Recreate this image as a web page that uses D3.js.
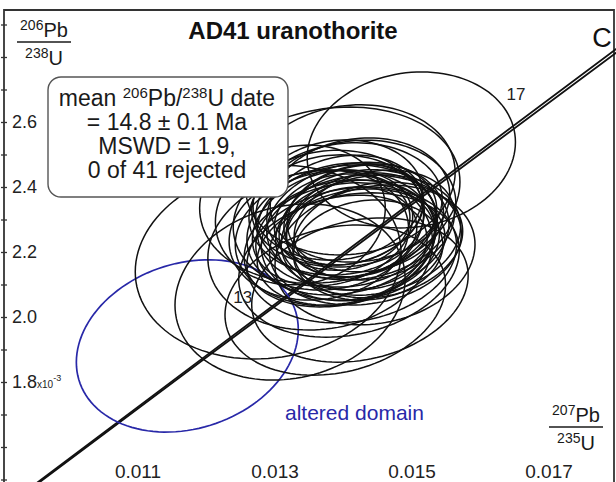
<!DOCTYPE html>
<html>
<head>
<meta charset="utf-8">
<script src="https://cdn.jsdelivr.net/npm/d3@7"></script>
<style>
  html, body { margin: 0; padding: 0; background: #fff; }
  svg { display: block; font-family: "Liberation Sans", Arial, sans-serif; }
</style>
</head>
<body>
<script>
// Axis ticks
const xTicks = [0.011, 0.013, 0.015, 0.017];
const yTicks = [1.8, 2.0, 2.2, 2.4, 2.6];            // x10^-3
const yMinor = [1.5, 1.6, 1.7, 1.8, 1.9, 2.0, 2.1, 2.2, 2.3, 2.4, 2.5, 2.6, 2.7, 2.8, 2.9];

// Spot analyses: 207Pb/235U, 2s err, 206Pb/238U (x10^-3), 2s err, error correlation
const spotX    = [0.01499, 0.01380, 0.01290, 0.01322, 0.01366, 0.01388, 0.01424, 0.01446, 0.01410, 0.01337,
                  0.01405, 0.01412, 0.01398, 0.01418, 0.01390, 0.01425, 0.01406, 0.01402, 0.01430, 0.01388,
                  0.01415, 0.01398, 0.01420, 0.01384, 0.01432, 0.01412, 0.01394, 0.01426, 0.01405, 0.01440,
                  0.01378, 0.01418, 0.01398, 0.01436, 0.01392, 0.01445, 0.01412, 0.01364, 0.01424, 0.01408,
                  0.01450];
const spotXErr = [0.00152, 0.00190, 0.00194, 0.00168, 0.00164, 0.00161, 0.00158, 0.00146, 0.00153, 0.00124,
                  0.00131, 0.00124, 0.00139, 0.00117, 0.00128, 0.00109, 0.00134, 0.00114, 0.00124, 0.00146,
                  0.00102, 0.00099, 0.00128, 0.00117, 0.00114, 0.00095, 0.00139, 0.00146, 0.00139, 0.00131,
                  0.00139, 0.00146, 0.00124, 0.00109, 0.00124, 0.00117, 0.00153, 0.00131, 0.00131, 0.00161,
                  0.00124];
const spotY    = [2.514, 2.375, 2.169, 2.077, 2.206, 2.052, 2.083, 2.191, 2.422, 2.314,
                  2.283, 2.298, 2.268, 2.252, 2.314, 2.283, 2.237, 2.329, 2.268, 2.243,
                  2.314, 2.292, 2.222, 2.274, 2.305, 2.262, 2.222, 2.237, 2.345, 2.252,
                  2.298, 2.329, 2.206, 2.206, 2.360, 2.283, 2.191, 2.252, 2.360, 2.160,
                  2.237];
const spotYErr = [0.240, 0.271, 0.298, 0.271, 0.246, 0.231, 0.222, 0.215, 0.231, 0.215,
                  0.191, 0.178, 0.200, 0.169, 0.185, 0.160, 0.185, 0.169, 0.185, 0.209,
                  0.154, 0.148, 0.172, 0.178, 0.166, 0.138, 0.191, 0.200, 0.191, 0.185,
                  0.215, 0.215, 0.169, 0.154, 0.185, 0.169, 0.209, 0.200, 0.191, 0.222,
                  0.178];
const spotRho  = [0.10, 0.15, 0.10, 0.15, 0.10, 0.20, 0.20, 0.15, 0.10, 0.10,
                  0.10, 0.20, 0.15, 0.10, 0.05, 0.20, 0.10, 0.15, 0.10, 0.10,
                  0.25, 0.10, 0.15, 0.20, 0.10, 0.10, 0.20, 0.10, 0.10, 0.15,
                  0.10, 0.10, 0.20, 0.10, 0.10, 0.20, 0.15, 0.10, 0.10, 0.20,
                  0.15];

// Altered-domain spot
const alteredX = 0.01172, alteredXErr = 0.00162;
const alteredY = 1.911,   alteredYErr = 0.265, alteredRho = 0.19;

// Concordia band
const concordiaX  = [0.0094, 0.0120, 0.0147, 0.0180];
const concordiaLo = [1.466, 1.876, 2.299, 2.816];
const concordiaHi = [1.470, 1.882, 2.307, 2.828];

// Labelled spots
const spotLabels = [{ text: "17", x: 0.01638, y: 2.668 }, { text: "13", x: 0.01239, y: 2.043 }];

const W = 616, H = 482;
const svg = d3.select("body").append("svg").attr("width", W).attr("height", H);

const x = d3.scaleLinear().domain([0.011, 0.017]).range([138, 549]);
const y = d3.scaleLinear().domain([2.0, 2.6]).range([317, 122]);

// ellipse outline from marginal errors + correlation
function ellipsePath(cx, ex, cy, ey, rho) {
  const pts = d3.range(0, 2 * Math.PI, Math.PI / 60).map(t => [
    x(cx + ex * Math.cos(t)),
    y(cy + ey * (rho * Math.cos(t) + Math.sqrt(1 - rho * rho) * Math.sin(t)))
  ]);
  return d3.line().curve(d3.curveLinearClosed)(pts);
}

// frame
svg.append("path").attr("d", "M4,482 V10 H614 V482")
  .attr("fill", "none").attr("stroke", "#333").attr("stroke-width", 1.8);

// y ticks
svg.append("g").attr("transform", "translate(1,0)")
  .call(d3.axisRight(y).tickValues(yMinor).tickSize(6).tickFormat(""))
  .call(g => g.select(".domain").remove())
  .selectAll("line").attr("stroke", "#333").attr("stroke-width", 1.3);

// y tick labels
const yl = svg.append("g").attr("fill", "#222").attr("font-size", 18);
yTicks.forEach(v => {
  const t = yl.append("text").attr("x", 12).attr("y", y(v) + 6).text(d3.format(".1f")(v));
  if (v === 1.8) {
    t.append("tspan").attr("font-size", 10).text("x10");
    t.append("tspan").attr("font-size", 9).attr("dy", -7).text("-3");
  }
});

// x tick labels
svg.append("g").attr("fill", "#222").attr("font-size", 19).attr("text-anchor", "middle")
  .selectAll("text").data(xTicks).join("text")
  .attr("x", d => x(d)).attr("y", 478).text(d => d3.format(".3f")(d));

// concordia
const cl = d3.line().x((d, i) => x(concordiaX[i]));
svg.append("path").attr("d", cl.y(d => y(d))(concordiaLo))
  .attr("fill", "none").attr("stroke", "#111").attr("stroke-width", 1.8);
svg.append("path").attr("d", cl.y(d => y(d))(concordiaHi))
  .attr("fill", "none").attr("stroke", "#111").attr("stroke-width", 1.8);

// altered domain ellipse
svg.append("path").attr("d", ellipsePath(alteredX, alteredXErr, alteredY, alteredYErr, alteredRho))
  .attr("fill", "none").attr("stroke", "#2828a8").attr("stroke-width", 1.7);

// spot ellipses
svg.append("g").selectAll("path").data(spotX).join("path")
  .attr("d", (d, i) => ellipsePath(spotX[i], spotXErr[i], spotY[i], spotYErr[i], spotRho[i]))
  .attr("fill", "none").attr("stroke", "#111").attr("stroke-width", 1.5);

// spot labels
svg.append("g").attr("fill", "#222").attr("font-size", 17)
  .selectAll("text").data(spotLabels).join("text")
  .attr("x", d => x(d.x)).attr("y", d => y(d.y)).text(d => d.text);

// title
svg.append("text").attr("x", 293).attr("y", 39).attr("text-anchor", "middle")
  .attr("font-size", 24).attr("font-weight", "bold").attr("fill", "#111")
  .text("AD41 uranothorite");

svg.append("text").attr("x", 602).attr("y", 47).attr("text-anchor", "middle")
  .attr("font-size", 27).attr("fill", "#111").text("C");

// result box
svg.append("rect").attr("x", 48).attr("y", 77).attr("width", 240).attr("height", 120).attr("rx", 13)
  .attr("fill", "#fff").attr("stroke", "#555").attr("stroke-width", 1.4);
const bx = svg.append("text").attr("text-anchor", "middle").attr("font-size", 23).attr("fill", "#1a1a1a");
const l1 = bx.append("tspan").attr("x", 167).attr("y", 106);
l1.append("tspan").text("mean ");
l1.append("tspan").attr("font-size", 15).attr("dy", -8).text("206");
l1.append("tspan").attr("dy", 8).text("Pb/");
l1.append("tspan").attr("font-size", 15).attr("dy", -8).text("238");
l1.append("tspan").attr("dy", 8).text("U date");
bx.append("tspan").attr("x", 167).attr("y", 130).text("= 14.8 \u00b1 0.1 Ma");
bx.append("tspan").attr("x", 167).attr("y", 154).text("MSWD = 1.9,");
bx.append("tspan").attr("x", 167).attr("y", 178).text("0 of 41 rejected");

// axis ratio labels
function ratioLabel(cx, top, num, numEl, den, denEl) {
  const g = svg.append("g").attr("fill", "#1a1a1a").attr("text-anchor", "middle");
  const a = g.append("text").attr("x", cx).attr("y", top + 19).attr("font-size", 20);
  a.append("tspan").attr("font-size", 14).attr("dy", -7).text(num);
  a.append("tspan").attr("dy", 7).text(numEl);
  g.append("line").attr("x1", cx - 27).attr("x2", cx + 27).attr("y1", top + 24).attr("y2", top + 24)
    .attr("stroke", "#1a1a1a").attr("stroke-width", 1.3);
  const b = g.append("text").attr("x", cx).attr("y", top + 47).attr("font-size", 20);
  b.append("tspan").attr("font-size", 14).attr("dy", -7).text(den);
  b.append("tspan").attr("dy", 7).text(denEl);
}
ratioLabel(44, 18, "206", "Pb", "238", "U");
ratioLabel(576, 403, "207", "Pb", "235", "U");

// altered domain label
svg.append("text").attr("x", 285).attr("y", 420).attr("font-size", 21).attr("fill", "#2828a8")
  .text("altered domain");
</script>
</body>
</html>
